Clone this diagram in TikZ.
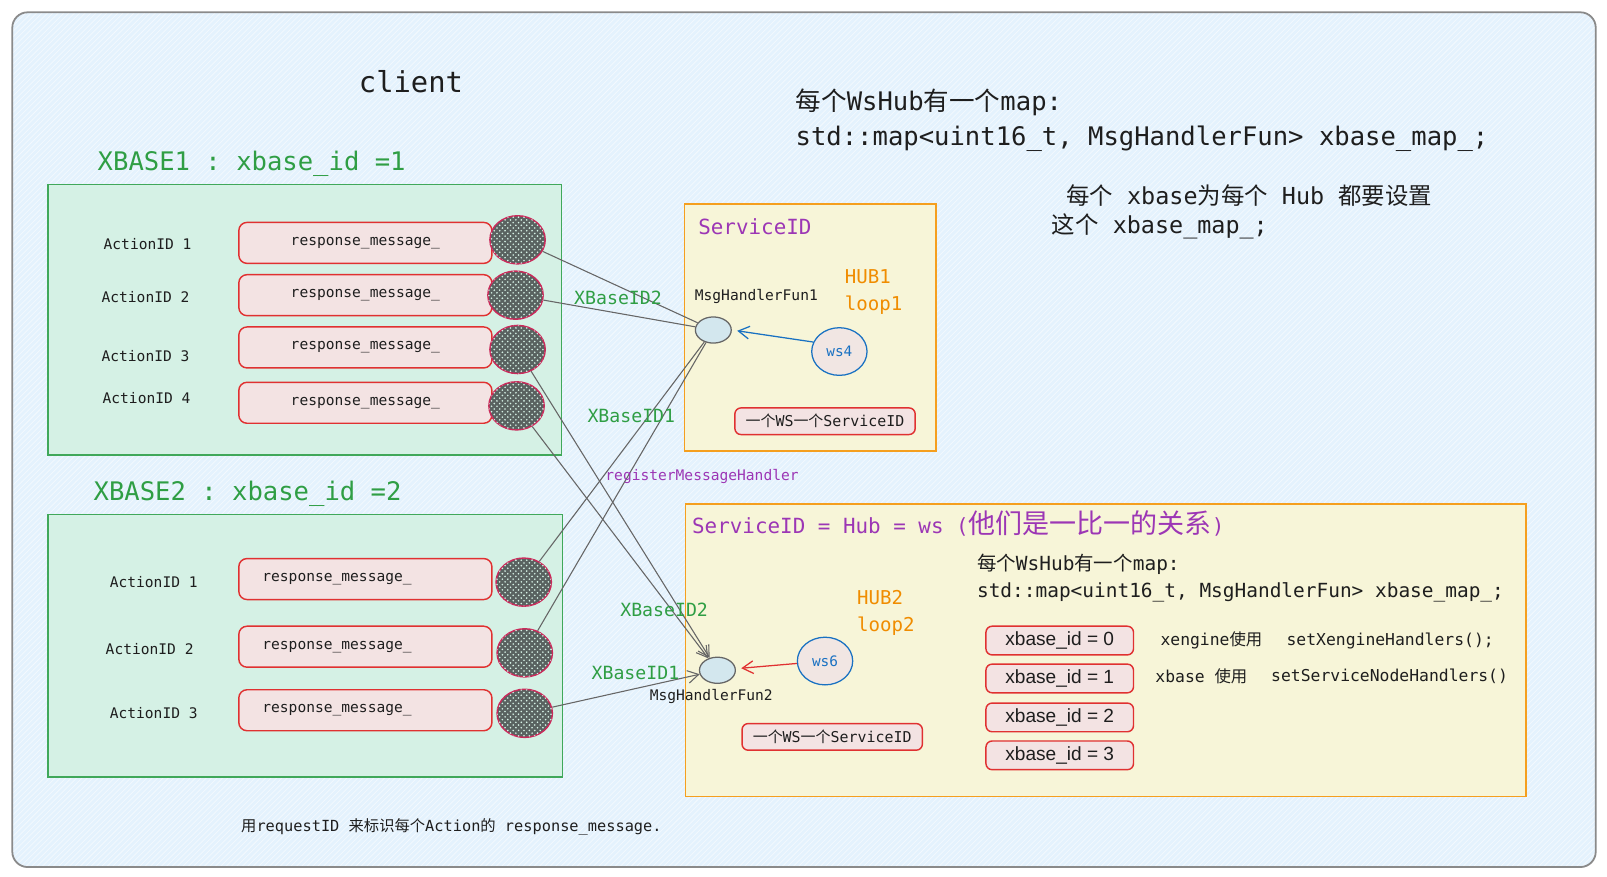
\documentclass[tikz,border=0pt]{standalone}
\usepackage{fontspec}
\setmainfont{DejaVu Sans}
\setsansfont{Liberation Sans}
\setmonofont{DejaVu Sans Mono}
\newfontfamily\cjk{Noto Sans CJK SC}
\usetikzlibrary{shapes.geometric,arrows.meta,patterns}

\definecolor{bgblue}{HTML}{E4F2FD}
\definecolor{sheetline}{HTML}{8A8A8A}
\definecolor{boxgreen}{HTML}{D5F1E5}
\definecolor{linegreen}{HTML}{40A85A}
\definecolor{txtgreen}{HTML}{2F9E44}
\definecolor{boxyellow}{HTML}{F7F5D8}
\definecolor{lineorange}{HTML}{F59F1E}
\definecolor{txtorange}{HTML}{F08C00}
\definecolor{linered}{HTML}{E03131}
\definecolor{boxpink}{HTML}{F3E3E3}
\definecolor{ringred}{HTML}{C92A5A}
\definecolor{balldark}{HTML}{596260}
\definecolor{txtpurple}{HTML}{9C36B5}
\definecolor{lineblue}{HTML}{1971C2}
\definecolor{handlerfill}{HTML}{D3E7EE}
\definecolor{wsfill}{HTML}{F1E6E3}
\definecolor{ink}{HTML}{1E1E1E}
\definecolor{wirecol}{HTML}{666666}

\newcommand\zh[1]{{\cjk #1}}

\tikzset{
    sheet/.style={rounded corners=0.3cm, fill=bgblue,
        postaction={pattern=north east lines, pattern color=white!55!bgblue},
        postaction={draw=sheetline, line width=1pt}},
    xbasebox/.style={draw=linegreen, line width=0.8pt, fill=boxgreen},
    hubbox/.style={draw=lineorange, line width=0.9pt, fill=boxyellow},
    respbox/.style={draw=linered, line width=0.8pt, fill=boxpink, rounded corners=0.16cm,
        minimum width=4.94cm, minimum height=0.8cm, text=ink,
        font=\ttfamily\fontsize{8.1}{10}\selectfont},
    respleft/.style={respbox, inner xsep=0.46cm, text width=4.02cm, align=left},
    ball/.style={ellipse, draw=ringred, line width=0.8pt, fill=balldark,
        postaction={pattern=crosshatch dots, pattern color=boxgreen},
        minimum width=1.08cm, minimum height=0.94cm, inner sep=0pt},
    actlabel/.style={text=ink, inner sep=0pt, font=\ttfamily\fontsize{8.1}{10}\selectfont},
    handler/.style={ellipse, draw=wirecol, line width=0.7pt, fill=handlerfill,
        minimum width=0.7cm, minimum height=0.51cm, inner sep=0pt},
    wsball/.style={ellipse, draw=lineblue, line width=0.7pt, fill=wsfill, text=lineblue,
        minimum width=1.08cm, minimum height=0.93cm, inner sep=0pt,
        font=\ttfamily\fontsize{8}{10}\selectfont},
    onews/.style={draw=linered, line width=0.8pt, fill=boxpink, rounded corners=0.12cm,
        minimum width=3.52cm, minimum height=0.52cm, inner sep=0pt, text=ink,
        font=\ttfamily\fontsize{8.3}{10}\selectfont},
    idbox/.style={draw=linered, line width=0.8pt, fill=boxpink, rounded corners=0.12cm,
        minimum width=2.88cm, minimum height=0.56cm, inner sep=0pt, text=ink,
        font=\sffamily\fontsize{10.6}{12}\selectfont},
    note/.style={anchor=west, inner sep=0pt, text=ink},
    idlabel/.style={inner sep=0pt, text=txtgreen, font=\ttfamily\fontsize{10.1}{12}\selectfont},
    wire/.style={draw=wirecol, line width=0.6pt},
    wirearrow/.style={wire, -{Straight Barb[length=6pt,width=7pt]}},
    wsarrow/.style={line width=0.7pt, -{Straight Barb[length=6pt,width=7pt]}, shorten >=3pt}
}

\begin{document}
\begin{tikzpicture}[x=0.02cm,y=-0.02cm]
    \useasboundingbox (0,0) rectangle (1568,855);
    \path[sheet] (12,12) rectangle (1557,846);
    \path[xbasebox] (47,180) rectangle (548,444);
    \path[xbasebox] (47,502) rectangle (549,758);
    \path[hubbox] (668,199) rectangle (913,440);
    \path[hubbox] (669,492) rectangle (1489,777);

    \node[inner sep=0pt, text=ink, font=\ttfamily\fontsize{16}{18}\selectfont] (client) at (401,80) {client};
    \node[note, text=txtgreen, font=\ttfamily\fontsize{14.2}{16}\selectfont] (xb1) at (95,160) {XBASE1 : xbase\_id =1};
    \node[note, text=txtgreen, font=\ttfamily\fontsize{14.2}{16}\selectfont] (xb2) at (91,482) {XBASE2 : xbase\_id =2};

    \node[actlabel] (act11) at (144,238) {ActionID 1};
    \node[actlabel] (act12) at (142,290) {ActionID 2};
    \node[actlabel] (act13) at (142,347) {ActionID 3};
    \node[actlabel] (act14) at (143,388) {ActionID 4};
    \node[actlabel] (act21) at (150,568) {ActionID 1};
    \node[actlabel] (act22) at (146,633) {ActionID 2};
    \node[actlabel] (act23) at (150,696) {ActionID 3};

    \node[respbox] (r11) at (356.5,237) {response\_message\_};
    \node[respbox] (r12) at (356.5,288) {response\_message\_};
    \node[respbox] (r13) at (356.5,339) {response\_message\_};
    \node[respbox] (r14) at (356.5,393) {response\_message\_};
    \node[respleft] (r21) at (356.5,565) {response\_message\_};
    \node[respleft] (r22) at (356.5,631) {response\_message\_};
    \node[respleft] (r23) at (356.5,693) {response\_message\_};

    \node[ball] (a1) at (505,234) {};
    \node[ball] (a2) at (503,288) {};
    \node[ball] (a3) at (505,341) {};
    \node[ball] (a4) at (504,396) {};
    \node[ball] (b1) at (511,568) {};
    \node[ball] (b2) at (512,637) {};
    \node[ball] (b3) at (512,696) {};

    \node[note, text=txtpurple, font=\ttfamily\fontsize{11.6}{13}\selectfont] (sid1) at (681,221) {ServiceID};
    \node[inner sep=0pt, text=ink, font=\ttfamily\fontsize{8.1}{10}\selectfont] (hf1) at (738,289) {MsgHandlerFun1};
    \node[note, align=left, text=txtorange, font=\ttfamily\fontsize{10.6}{14.8}\selectfont] (hub1) at (824,285) {HUB1\\loop1};
    \node[handler] (h1) at (696,322) {};
    \node[wsball] (ws4) at (819,343) {ws4};
    \node[onews] (one1) at (805,411) {\zh{一个}WS\zh{一个}ServiceID};

    \node[note, text=txtpurple, font=\ttfamily\fontsize{11.6}{13}\selectfont] (sid2) at (675,511)
        {ServiceID = Hub = ws ({\cjk\fontsize{15}{16}\selectfont 他们是一比一的关系})};
    \node[note, align=left, font=\ttfamily\fontsize{10.8}{14.8}\selectfont] (map2) at (953,564)
        {\zh{每个}WsHub\zh{有一个}map:\\std::map<uint16\_t, MsgHandlerFun> xbase\_map\_;};
    \node[note, align=left, text=txtorange, font=\ttfamily\fontsize{10.6}{14.8}\selectfont] (hub2) at (836,598) {HUB2\\loop2};
    \node[handler] (h2) at (700,654) {};
    \node[inner sep=0pt, text=ink, font=\ttfamily\fontsize{8.1}{10}\selectfont] (hf2) at (694,680) {MsgHandlerFun2};
    \node[wsball] (ws6) at (805,645) {ws6};
    \node[onews] (one2) at (812,719) {\zh{一个}WS\zh{一个}ServiceID};

    \node[idbox] (id0) at (1034,625) {xbase\_id = 0};
    \node[idbox] (id1) at (1034,662) {xbase\_id = 1};
    \node[idbox] (id2) at (1034,700) {xbase\_id = 2};
    \node[idbox] (id3) at (1034,737) {xbase\_id = 3};
    \node[note, font=\ttfamily\fontsize{9.1}{11}\selectfont] (use0) at (1132,625) {xengine\zh{使用}};
    \node[note, font=\ttfamily\fontsize{9.1}{11}\selectfont] (fun0) at (1255,625) {setXengineHandlers();};
    \node[note, font=\ttfamily\fontsize{9.1}{11}\selectfont] (use1) at (1127,660) {xbase \zh{使用}};
    \node[note, font=\ttfamily\fontsize{9.1}{11}\selectfont] (fun1) at (1240,660) {setServiceNodeHandlers()};

    \node[note, align=left, font=\ttfamily\fontsize{14.2}{19.3}\selectfont] (map1) at (776,117)
        {\zh{每个}WsHub\zh{有一个}map:\\std::map<uint16\_t, MsgHandlerFun> xbase\_map\_;};
    \node[note, font=\ttfamily\fontsize{13}{15}\selectfont] (set1) at (1040,191) {\zh{每个} xbase\zh{为每个} Hub \zh{都要设置}};
    \node[note, font=\ttfamily\fontsize{13}{15}\selectfont] (set2) at (1026,221) {\zh{这个} xbase\_map\_;};
    \node[note, font=\ttfamily\fontsize{8.5}{10}\selectfont] (req) at (235,807)
        {\zh{用}requestID \zh{来标识每个}Action\zh{的} response\_message.};

    \draw[wire] (a1) -- (h1);
    \draw[wire] (a2) -- (h1);
    \draw[wire] (b1) -- (h1);
    \draw[wire] (b2) -- (h1);
    \draw[wirearrow] (a3) -- (h2);
    \draw[wirearrow] (a4) -- (h2);
    \draw[wirearrow] (b3) -- (h2);
    \draw[wsarrow, lineblue] (ws4.160) -- (h1.east);
    \draw[wsarrow, linered] (ws6) -- (h2);

    \node[idlabel] (xid2a) at (603,291) {XBaseID2};
    \node[idlabel] (xid1a) at (616,406) {XBaseID1};
    \node[inner sep=0pt, text=txtpurple, font=\ttfamily\fontsize{8.1}{10}\selectfont] (reg) at (685,465) {registerMessageHandler};
    \node[idlabel] (xid2b) at (648,595) {XBaseID2};
    \node[idlabel] (xid1b) at (620,657) {XBaseID1};
\end{tikzpicture}
\end{document}
